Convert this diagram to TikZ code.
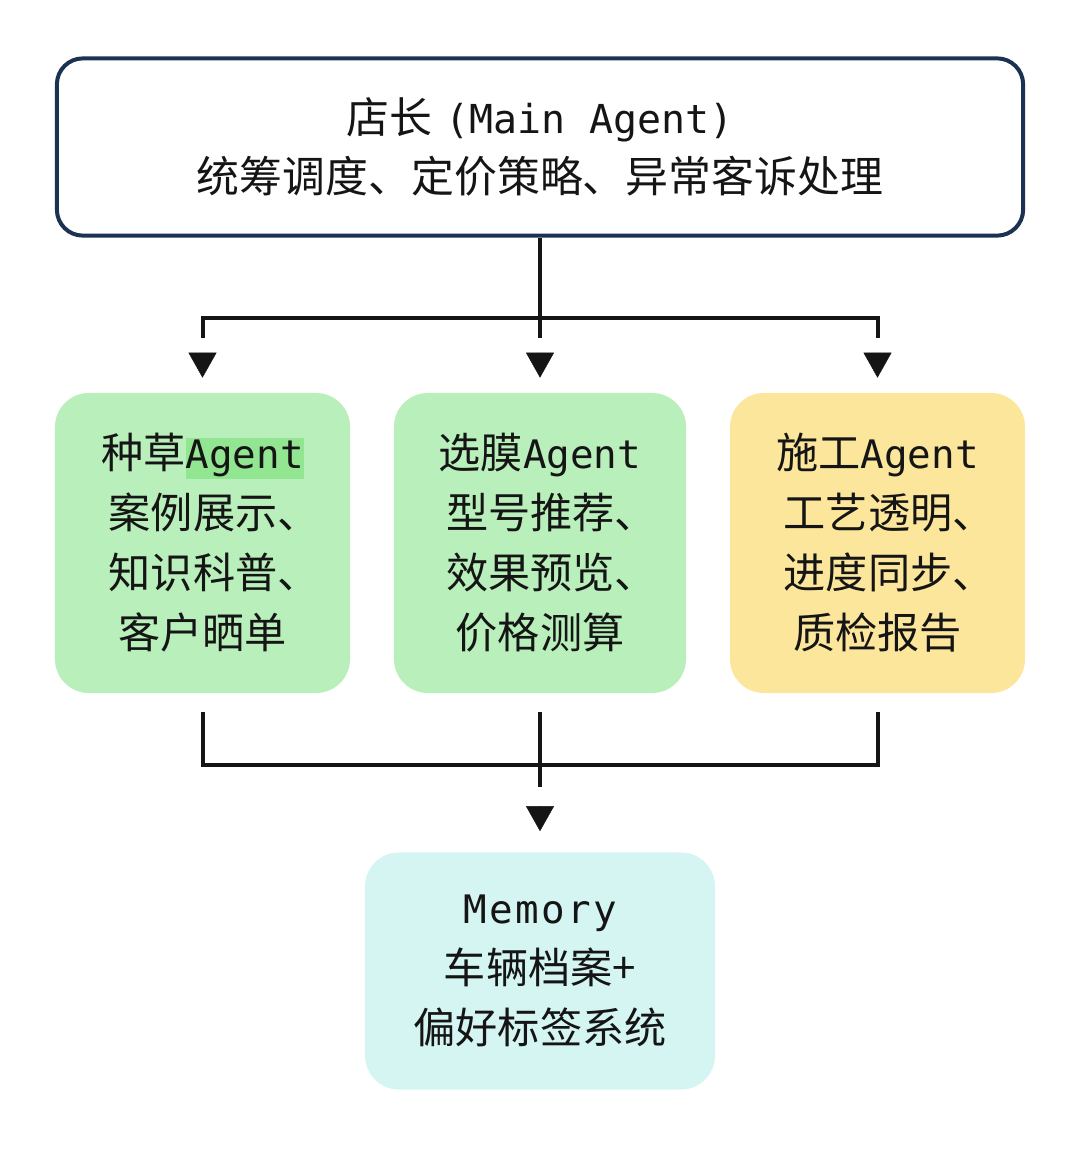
\documentclass[tikz,border=0pt]{standalone}
\usepackage{fontspec}
\setmainfont{Noto Sans CJK SC}
\setmonofont[Scale=0.93]{DejaVu Sans Mono}
\usetikzlibrary{arrows.meta}
\definecolor{navy}{HTML}{1B3350}
\definecolor{ink}{HTML}{151515}
\definecolor{leaf}{HTML}{B9EFBB}
\definecolor{sun}{HTML}{FBE69C}
\definecolor{aqua}{HTML}{D4F5F1}
\definecolor{mark}{HTML}{92E692}
\newcommand{\lat}[1]{{\ttfamily #1}}
\newcommand{\hl}[1]{{\setlength{\fboxsep}{0pt}\colorbox{mark}{\vphantom{Ag}\ttfamily #1}}}
\newcommand{\dun}{\makebox[0.45em][l]{、}}
\begin{document}
\begin{tikzpicture}[
x=0.025cm,y=-0.025cm,
mainbox/.style={draw=navy,line width=0.1cm,fill=white,rounded corners=0.65cm,
  minimum width=24.15cm,minimum height=4.43cm,align=center,text=ink,
  font=\fontsize{30.5pt}{42pt}\selectfont},
agentbox/.style={rounded corners=0.85cm,minimum width=7.375cm,minimum height=7.5cm,
  align=center,text=ink,font=\fontsize{30pt}{42.7pt}\selectfont},
membox/.style={agentbox,fill=aqua,minimum width=8.75cm,minimum height=5.925cm,
  font=\fontsize{30pt}{42.7pt}\selectfont},
line/.style={draw=ink,line width=0.1cm},
tip/.style={draw=ink,fill=ink,line width=0.01cm,-{Triangle[width=0.7cm,length=0.625cm]}}
]
\useasboundingbox (0,0) rectangle (1080,1149);

% boxes
\node[mainbox] (main) at (540,147) {店长\hspace{0.3em}\lat{(Main Agent)}\\统筹调度、定价策略、异常客诉处理};
\node[agentbox,fill=leaf] (zc) at (202.5,543) {种草\hl{Agent}\\案例展示\dun\\知识科普\dun\\客户晒单};
\node[agentbox,fill=leaf,minimum width=7.3cm] (xm) at (540,543) {选膜\lat{Agent}\\型号推荐\dun\\效果预览\dun\\价格测算};
\node[agentbox,fill=sun] (sg) at (877.5,543) {施工\lat{Agent}\\工艺透明\dun\\进度同步\dun\\质检报告};
\node[membox] (mem) at (540,971) {\lat{\addfontfeatures{LetterSpace=6}Memory}\\车辆档案+\\偏好标签系统};

% dispatch: line stops short, tip sits apart
\coordinate (hub) at (540,318);
\draw[line] (main.south) -- ([yshift=1.375cm]xm.north);
\draw[line] (hub) -| ([yshift=1.375cm]zc.north);
\draw[line] (hub) -| ([yshift=1.375cm]sg.north);
\foreach \n in {zc,xm,sg}
  \draw[tip] ([yshift=1.0cm]\n.north) -- ([yshift=0.375cm]\n.north);

% merge
\coordinate (merge) at (540,765);
\draw[line] ([yshift=-0.475cm]zc.south) |- (merge);
\draw[line] ([yshift=-0.475cm]sg.south) |- (merge);
\draw[line] ([yshift=-0.475cm]xm.south) -- ([yshift=1.625cm]mem.north);
\draw[tip] ([yshift=1.15cm]mem.north) -- ([yshift=0.525cm]mem.north);
\end{tikzpicture}
\end{document}
